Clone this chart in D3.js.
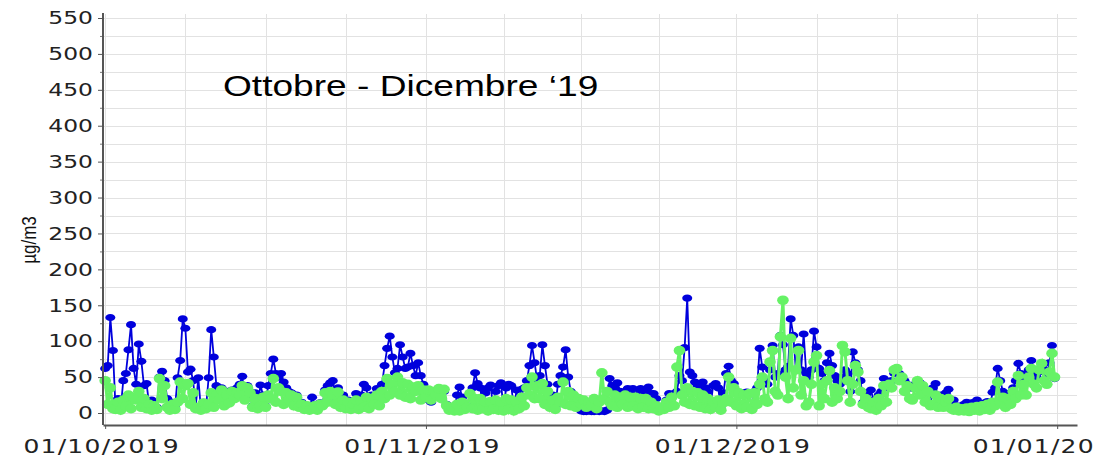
<!DOCTYPE html>
<html>
<head>
<meta charset="utf-8">
<script src="https://cdnjs.cloudflare.com/ajax/libs/d3/7.8.5/d3.min.js"></script>
<style>
  body { margin: 0; background: #fff; }
  svg { display: block; }
</style>
</head>
<body>
<div id="my_dataviz"></div>
<script>
// readings every 6 hours starting 01/10/2019 00:00 (4 per day)
var startDate = new Date(Date.UTC(2019, 9, 1));
var stepHours = 6;

var blueValues = [
  62,66,133,87, 8,20,6,45, 55,88,123,62, 40,96,72,38, 41,12,18,10, 8,50,58,45, 20,6,15,8,
  49,73,131,118, 57,61,45,8, 49,6,15,8, 49,116,78,38, 30,35,12,30, 16,32,28,35, 40,51,22,38,
  30,10,28,8, 39,25,10,38, 55,75,55,50, 55,43,35,30, 28,12,25,10, 15,6,10,5, 22,12,5,14,
  12,32,38,42, 45,15,35,10, 25,8,18,6, 14,27,6,25, 40,35,8,25, 14,34,12,40, 66,90,107,78,
  56,62,95,78, 62,64,83,66, 52,70,52,40,
  // novembre
  28,18,15,22, 30,28,32,30, 12,6,5,4, 25,36,22,6, 10,28,35,56, 41,35,8,28, 35,39,6,30,
  38,42,5,35, 40,38,5,32, 8,33,35,45, 66,94,70,45, 52,95,66,40, 10,25,8,40, 52,64,88,50,
  30,25,15,6, 3,2,2,3, 2,2,3,2, 3,2,4,48, 38,35,42,30, 28,30,34,32, 34,30,8,34,
  25,30,36,27, 27,20,5,8, 8,18,27,25, 27,30,52,45, 91,160,57,52, 43,38,40,43, 35,30,8,38,
  41,35,6,28, 55,65,45,41,
  // dicembre
  30,28,8,28, 29,27,8,30, 35,90,64,45, 40,60,94,50, 55,108,95,60, 65,131,108,60, 92,60,110,55,
  50,60,114,92, 62,55,45,70, 83,66,52,45, 40,50,60,55, 30,85,70,60, 45,15,28,10, 32,18,6,25,
  30,48,42,35, 45,55,60,55, 50,45,40,35, 35,40,45,42, 38,30,25,12, 35,41,10,25, 25,28,33,8,
  18,10,5,10, 12,15,4,14, 15,18,5,12, 14,16,6,29, 35,62,45,30, 25,22,28,35, 45,69,55,50,
  48,60,73,55, 50,57,65,60, 55,70,94,48
];

var greenValues = [
  45,12,35,6, 5,15,4,18, 10,25,6,22, 18,30,8,20, 6,12,4,10, 5,48,20,38, 8,4,12,5,
  15,43,20,38, 41,12,28,6, 8,4,14,6, 12,28,8,25, 18,32,10,25, 14,30,20,28, 25,38,18,35,
  28,8,20,6, 10,22,8,25, 20,48,15,35, 30,12,28,18, 25,10,22,8, 12,5,10,4, 6,10,4,12,
  10,28,15,30, 25,12,29,8, 18,6,15,5, 12,18,5,16, 8,22,6,20, 12,25,10,30, 20,48,25,40,
  30,50,25,42, 22,40,20,36, 30,38,18,32,
  // novembre
  22,32,18,30, 25,34,20,33, 10,4,8,3, 12,3,15,5, 8,27,6,20, 4,20,6,15, 3,16,5,18,
  4,15,3,20, 5,18,3,16, 6,22,10,35, 25,50,20,38, 20,41,12,30, 8,18,5,22, 15,43,12,30,
  10,25,8,20, 12,18,8,14, 10,20,6,15, 56,20,30,15, 10,25,8,22, 12,25,8,22, 10,22,6,20,
  8,20,6,15, 6,10,3,8, 5,15,8,22, 10,64,87,25, 15,35,12,30, 10,28,8,25, 6,20,5,16,
  8,18,4,14, 20,50,15,35,
  // dicembre
  10,28,6,25, 8,27,5,28, 12,40,50,20, 15,71,87,30, 25,106,157,50, 20,104,35,60, 87,25,45,10,
  15,40,71,80, 10,40,20,45, 59,15,35,20, 30,94,85,45, 15,40,66,57, 30,12,20,8, 6,15,4,20,
  10,38,15,40, 35,60,62,45, 50,30,38,20, 18,35,45,25, 38,15,30,10, 12,25,8,20, 8,15,20,6,
  4,8,3,6, 3,7,2,8, 4,9,3,10, 5,12,4,15, 10,43,15,22, 8,20,12,30, 20,52,25,40,
  25,50,62,40, 35,60,69,45, 40,57,83,50
];

var yTicks = d3.range(0, 551, 50);
var yMinorTicks = d3.range(25, 551, 50);
var gridValues = d3.range(0, 551, 25);
var monthStarts = [
  new Date(Date.UTC(2019, 9, 1)), new Date(Date.UTC(2019, 10, 1)),
  new Date(Date.UTC(2019, 11, 1)), new Date(Date.UTC(2020, 0, 1))
];
var tickLabels = ["01/10/2019", "01/11/2019", "01/12/2019", "01/01/20"];
var titleText = "Ottobre - Dicembre \u201819";
var yLabel = "\u00b5g/m3";

var width = 1107, height = 457;
var plotBottom = 425;

var svg = d3.select("#my_dataviz")
  .append("svg")
    .attr("width", width)
    .attr("height", height);

function toSeries(values) {
  return values.map(function(v, i) {
    return { date: d3.utcHour.offset(startDate, i * stepHours), value: v };
  });
}
var blue = toSeries(blueValues);
var green = toSeries(greenValues);

var x = d3.scaleUtc()
  .domain([d3.utcHour.offset(monthStarts[0], -5), d3.utcHour.offset(monthStarts[3], 46)])
  .range([103, 1077]);

var y = d3.scaleLinear()
  .domain([0, 550])
  .range([413, 18]);

// vertical grid: each month split in 4
var vGrid = [];
for (var m = 0; m < 3; m++) {
  var s = +monthStarts[m], e = +monthStarts[m + 1];
  for (var k = 0; k < 4; k++) vGrid.push(new Date(s + (e - s) * k / 4));
}
vGrid.push(monthStarts[3]);

svg.append("g").selectAll("line")
  .data(gridValues)
  .enter().append("line")
    .attr("x1", 103).attr("x2", 1077)
    .attr("y1", function(d) { return Math.round(y(d)) + 0.5; })
    .attr("y2", function(d) { return Math.round(y(d)) + 0.5; })
    .attr("stroke", "#e2e2e2").attr("stroke-width", 1);

svg.append("g").selectAll("line")
  .data(vGrid)
  .enter().append("line")
    .attr("x1", function(d) { return Math.round(x(d)) + 0.5; })
    .attr("x2", function(d) { return Math.round(x(d)) + 0.5; })
    .attr("y1", 14).attr("y2", plotBottom)
    .attr("stroke", "#e2e2e2").attr("stroke-width", 1);

// lines + markers
var line = d3.line()
  .x(function(d) { return x(d.date); })
  .y(function(d) { return y(d.value); });

svg.append("path")
  .datum(blue)
  .attr("fill", "none")
  .attr("stroke", "#0000dc")
  .attr("stroke-width", 1.8)
  .attr("d", line);

svg.append("g").selectAll("ellipse")
  .data(blue)
  .enter().append("ellipse")
    .attr("cx", function(d) { return x(d.date); })
    .attr("cy", function(d) { return y(d.value); })
    .attr("rx", 5).attr("ry", 3.6)
    .attr("fill", "#0000dc");

svg.append("path")
  .datum(green)
  .attr("fill", "none")
  .attr("stroke", "#66f266")
  .attr("stroke-width", 3)
  .attr("d", line);

svg.append("g").selectAll("ellipse")
  .data(green)
  .enter().append("ellipse")
    .attr("cx", function(d) { return x(d.date); })
    .attr("cy", function(d) { return y(d.value); })
    .attr("rx", 5.8).attr("ry", 4.8)
    .attr("fill", "#66f266");

// Y axis
var yAxis = svg.append("g")
  .attr("transform", "translate(103,0)")
  .call(d3.axisLeft(y).tickValues(yTicks).tickSize(5));
yAxis.select(".domain").remove();
yAxis.selectAll("line").attr("stroke", "#555");
yAxis.selectAll("text")
  .attr("x", null)
  .attr("transform", "translate(-10,0) scale(1.3,1)")
  .attr("fill", "#222")
  .style("font-family", "'DejaVu Sans', Verdana, sans-serif")
  .style("font-size", "18px");

svg.append("g")
  .attr("transform", "translate(103,0)")
  .call(d3.axisLeft(y).tickValues(yMinorTicks).tickSize(3).tickFormat(""))
  .call(function(g) { g.select(".domain").remove(); })
  .selectAll("line").attr("stroke", "#777");

svg.append("line")
  .attr("x1", 103).attr("x2", 103)
  .attr("y1", 13).attr("y2", plotBottom)
  .attr("stroke", "#555").attr("stroke-width", 2);

// X axis
var xAxis = svg.append("g")
  .attr("transform", "translate(0," + plotBottom + ")")
  .call(d3.axisBottom(x).tickValues(monthStarts).tickSize(4).tickSizeOuter(0)
    .tickFormat(function(d, i) { return tickLabels[i]; }));
xAxis.select(".domain").attr("stroke", "#555").attr("stroke-width", 2);
xAxis.selectAll("line").attr("stroke", "#555");
xAxis.selectAll("text")
  .attr("y", null).attr("dy", null)
  .attr("text-anchor", function(d, i) { return i === 3 ? "start" : "middle"; })
  .attr("transform", function(d, i) {
    return "translate(" + (i === 3 ? -85 : -4) + ",28) scale(1.25,1)";
  })
  .attr("fill", "#222")
  .style("letter-spacing", "1px")
  .style("font-family", "'DejaVu Sans', Verdana, sans-serif")
  .style("font-size", "20px");

// y label
svg.append("text")
  .attr("transform", "translate(36,240) scale(1.2,1) rotate(-90)")
  .attr("text-anchor", "middle")
  .style("font-family", "'Liberation Sans', Arial, sans-serif")
  .style("font-size", "17px")
  .attr("fill", "#111")
  .text(yLabel);

// title
svg.append("text")
  .attr("transform", "translate(223,96) scale(1.28,1)")
  .style("font-family", "'Liberation Sans', Arial, sans-serif")
  .style("font-size", "29px")
  .attr("fill", "#000")
  .text(titleText);
</script>
</body>
</html>
